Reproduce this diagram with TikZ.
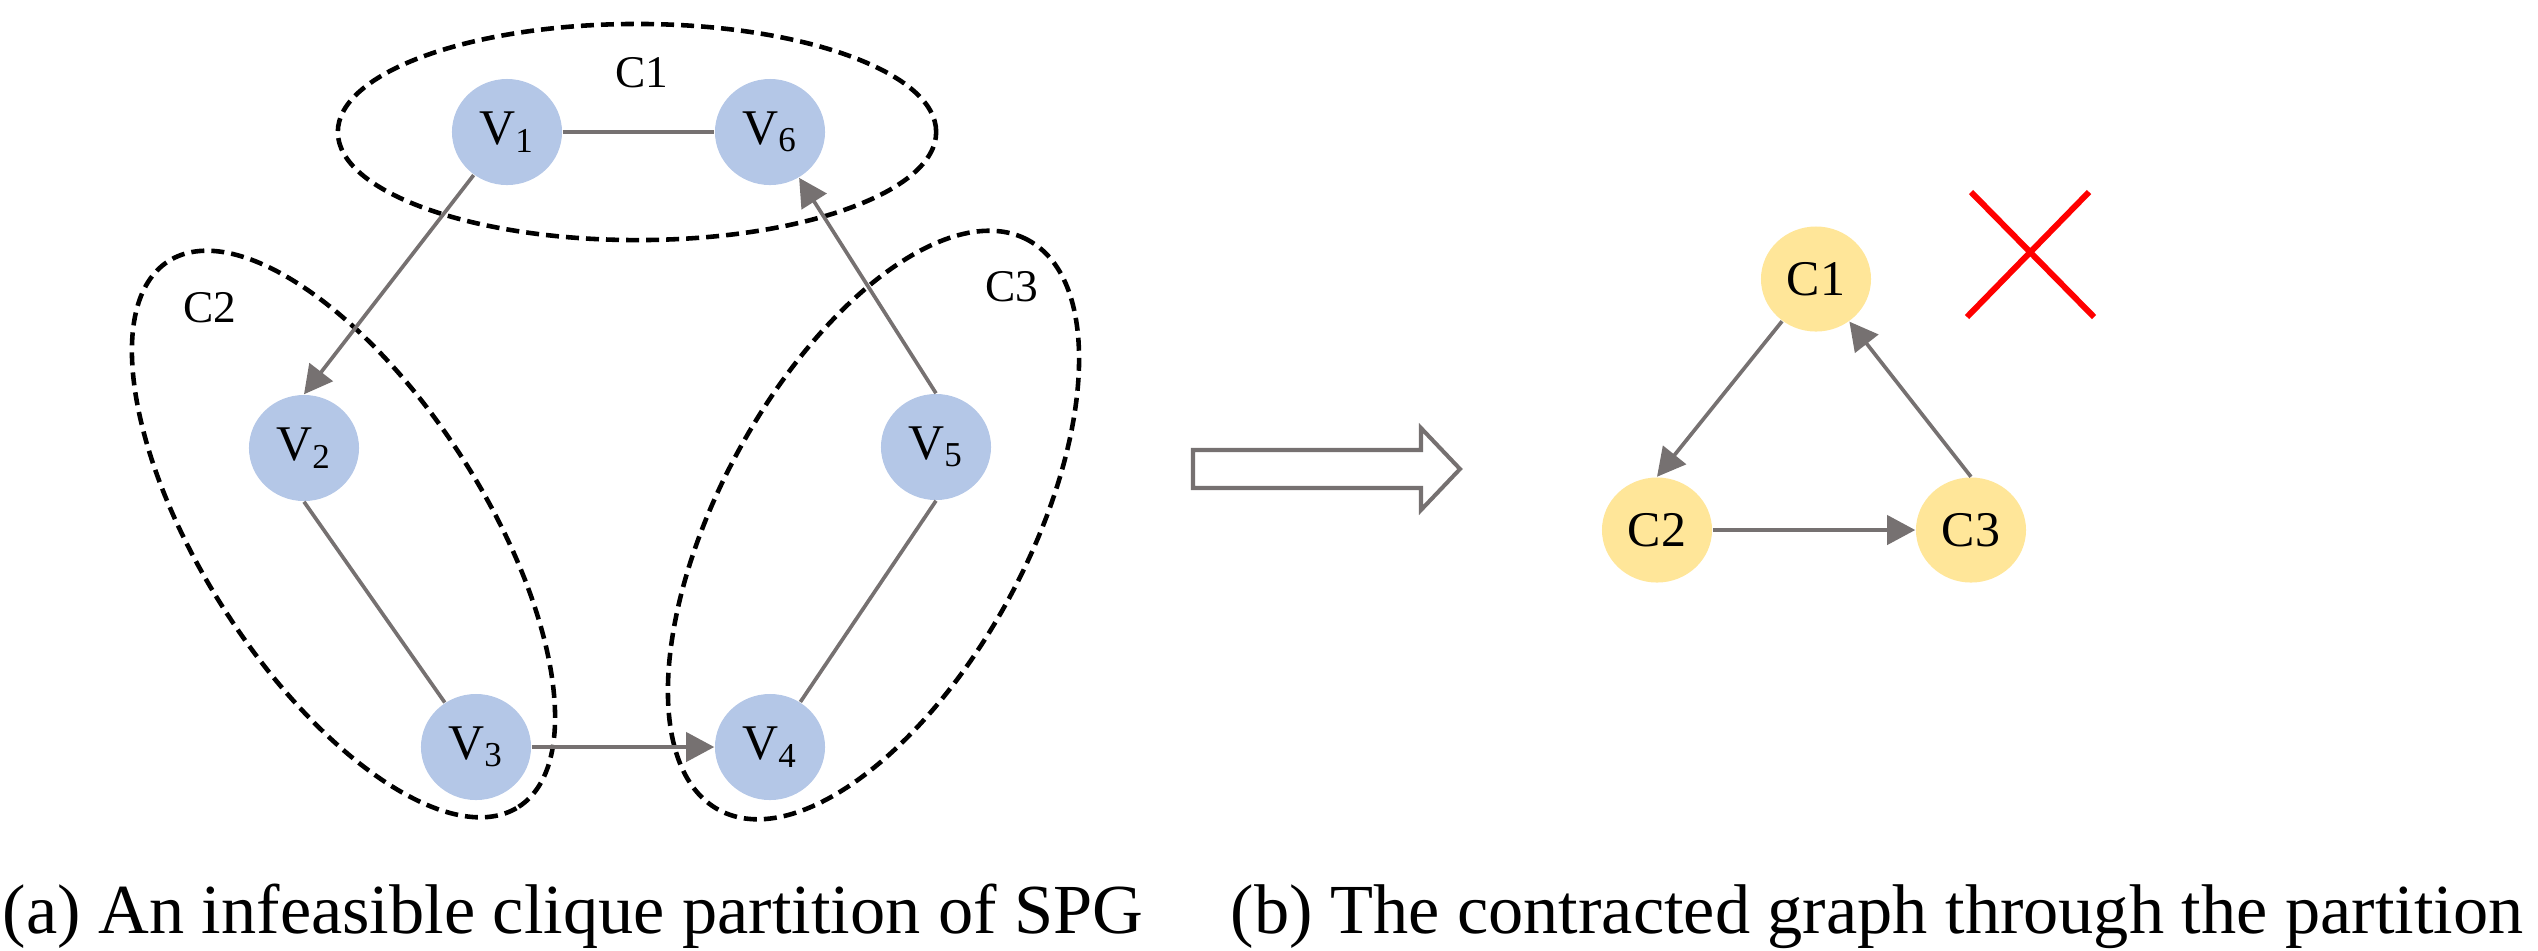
\documentclass[tikz,border=0pt]{standalone}
\usepackage{fontspec}
\setmainfont{Liberation Serif}
\usetikzlibrary{shapes.geometric,arrows.meta}
\definecolor{nodeblue}{RGB}{180,199,231}
\definecolor{nodeyellow}{RGB}{255,230,153}
\definecolor{edgegray}{RGB}{118,113,113}
\begin{document}
\begin{tikzpicture}[x=0.01cm,y=-0.01cm,
  vnode/.style={ellipse, fill=nodeblue, minimum width=1.1cm, minimum height=1.06cm, inner sep=0pt, font=\fontsize{14.2}{16}\selectfont},
  cnode/.style={ellipse, fill=nodeyellow, minimum width=1.1cm, minimum height=1.05cm, inner sep=0pt, font=\fontsize{14.2}{16}\selectfont},
  edgeline/.style={draw=edgegray, line width=1.05pt},
  arrline/.style={edgeline, -{Triangle[length=8pt,width=8.3pt]}},
  grp/.style={ellipse, draw=black, line width=1.3pt, dash pattern=on 3.7pt off 2pt, inner sep=0pt},
  grplab/.style={font=\fontsize{12.9}{14}\selectfont, inner sep=0pt},
  captext/.style={font=\fontsize{20}{24}\selectfont, anchor=base west, inner sep=0pt}]
\useasboundingbox (0,0) rectangle (2538,950);
% group ellipses
\node[grp, minimum width=5.98cm, minimum height=2.16cm] (g1) at (637,132) {};
\node[grp, minimum width=6.48cm, minimum height=2.82cm, rotate=-57.3] (g2) at (343.5,534) {};
\node[grp, minimum width=6.48cm, minimum height=3.08cm, rotate=61.5] (g3) at (873.5,525) {};
\node[grplab] (l1) at (642,73) {C1};
\node[grplab] (l2) at (210,308) {C2};
\node[grplab] (l3) at (1012,287) {C3};
% vertices
\node[vnode] (v1) at (507,132) {V\textsubscript{1}};
\node[vnode] (v6) at (770,132) {V\textsubscript{6}};
\node[vnode] (v2) at (304,448) {V\textsubscript{2}};
\node[vnode] (v3) at (476,747) {V\textsubscript{3}};
\node[vnode] (v4) at (770,747) {V\textsubscript{4}};
\node[vnode] (v5) at (936,447) {V\textsubscript{5}};
\draw[edgeline] (v1) -- (v6);
\draw[arrline] (v1) -- (v2.north);
\draw[edgeline] (v2.south) -- (v3);
\draw[arrline] (v3) -- (v4);
\draw[edgeline] (v4) -- (v5.south);
\draw[arrline] (v5.north) -- (v6);
% hollow arrow
\draw[draw=edgegray, line width=1.15pt, fill=white] (1193,450) -- (1421,450) -- (1421,428) -- (1460,469) -- (1421,510) -- (1421,488) -- (1193,488) -- cycle;
% contracted graph
\node[cnode] (c1) at (1816,279) {C1};
\node[cnode] (c2) at (1657,530) {C2};
\node[cnode] (c3) at (1971,530) {C3};
\draw[arrline] (c1) -- (c2.north);
\draw[arrline] (c2) -- (c3);
\draw[arrline] (c3.north) -- (c1);
% red cross
\draw[red, line width=1.7pt] (1971,192) -- (2094,317) (2089,192) -- (1967,317);
% captions
\node[captext] (capa) at (2,933) {(a) An infeasible clique partition of SPG};
\node[captext] (capb) at (1230,933) {(b) The contracted graph through the partition};
\end{tikzpicture}
\end{document}
